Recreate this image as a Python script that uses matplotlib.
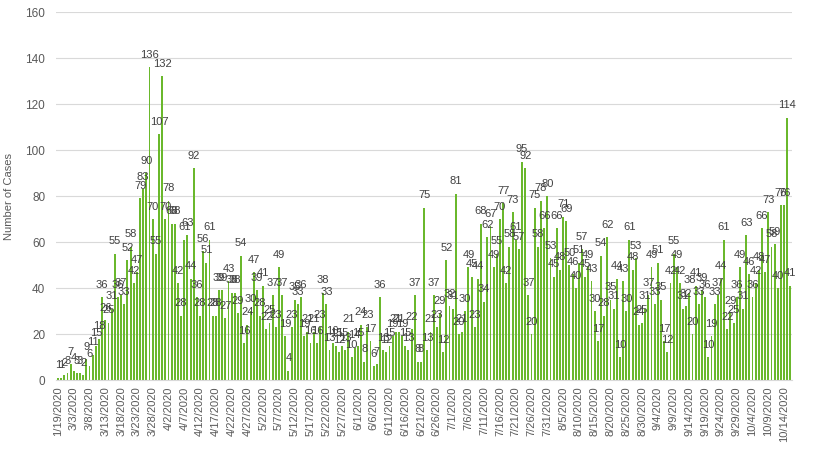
import pandas as pd
import numpy as np
import matplotlib
matplotlib.use("Agg")
import matplotlib.pyplot as plt

# ======================
# CONFIG
# ======================
OUTPUT_PNG = "out.png"
BAR_COLOR = "#6ab82c"
TEXT_COLOR = "#595959"
LABEL_COLOR = "#404040"
GRID_COLOR = "#d9d9d9"

plt.rcParams["font.family"] = ["Liberation Sans", "DejaVu Sans"]

# ======================
# DATA
# ======================
# first report, then daily from 2/28/2020 to 10/16/2020
first_date = ["1/19/2020"]
daily_dates = [f"{d.month}/{d.day}/{d.year}"
               for d in pd.date_range("2020-02-28", "2020-10-16")]
dates = first_date + daily_dates

cases = [
    1, 1, 2, 3, 7, 4, 3, 3, 2, 9,
    6, 11, 15, 18, 36, 26, 25, 31, 55, 36,
    37, 33, 52, 58, 42, 47, 79, 83, 90, 136,
    70, 55, 107, 132, 70, 78, 68, 68, 42, 28,
    61, 63, 44, 92, 36, 28, 56, 51, 61, 28,
    28, 39, 39, 27, 43, 38, 38, 29, 54, 16,
    24, 30, 47, 39, 28, 41, 22, 25, 37, 23,
    49, 37, 19, 4, 23, 35, 33, 36, 19, 21,
    16, 21, 16, 23, 38, 33, 13, 16, 15, 12,
    15, 13, 21, 10, 14, 15, 24, 8, 23, 17,
    6, 7, 36, 13, 12, 15, 19, 21, 21, 19,
    15, 13, 22, 37, 8, 8, 75, 13, 21, 37,
    23, 29, 12, 52, 32, 31, 81, 20, 21, 30,
    49, 45, 23, 44, 68, 34, 62, 67, 49, 55,
    70, 77, 42, 58, 73, 61, 57, 95, 92, 37,
    20, 75, 58, 78, 66, 80, 53, 45, 66, 48,
    71, 69, 50, 46, 40, 51, 57, 45, 49, 43,
    30, 17, 54, 28, 62, 35, 31, 44, 10, 43,
    30, 61, 48, 53, 24, 25, 31, 37, 49, 33,
    51, 35, 17, 12, 42, 55, 49, 42, 31, 32,
    38, 20, 41, 33, 39, 36, 10, 19, 33, 37,
    44, 61, 22, 29, 25, 36, 49, 31, 63, 46,
    36, 42, 48, 66, 47, 73, 58, 59, 40, 76,
    76, 114, 41,
]

y_ticks = [0, 20, 40, 60, 80, 100, 120, 140, 160]

# ======================
# PLOT
# ======================
fig = plt.figure(figsize=(8.16, 4.6), dpi=100)
ax = fig.add_axes([56.4 / 816, 1 - 381 / 460, (792 - 56.4) / 816, (381 - 13) / 460])

x = np.arange(len(cases))
bars = ax.bar(x, cases, width=0.6, color=BAR_COLOR, zorder=2)
ax.bar_label(bars, labels=[str(v) for v in cases], padding=6,
             fontsize=8, color=LABEL_COLOR, zorder=3)

ax.set_xlim(-0.5, len(cases) - 0.5)
ax.set_ylim(0, 160)
ax.set_yticks(y_ticks)
ax.set_yticklabels([str(t) for t in y_ticks], fontsize=8.5, color=TEXT_COLOR)

tick_pos = list(range(0, len(dates), 5))
ax.set_xticks(tick_pos)
ax.set_xticklabels([dates[i] for i in tick_pos], rotation=90,
                   fontsize=8, color=TEXT_COLOR)

ax.set_ylabel("Number of Cases", fontsize=8, color=TEXT_COLOR, labelpad=8)

ax.grid(axis="y", color=GRID_COLOR, linewidth=0.8, zorder=0)
ax.tick_params(axis="x", length=0, pad=4)
ax.tick_params(axis="y", length=0, pad=8)
for side in ["top", "right", "left"]:
    ax.spines[side].set_visible(False)
ax.spines["bottom"].set_color(GRID_COLOR)

plt.savefig(OUTPUT_PNG, dpi=100)
plt.close()
